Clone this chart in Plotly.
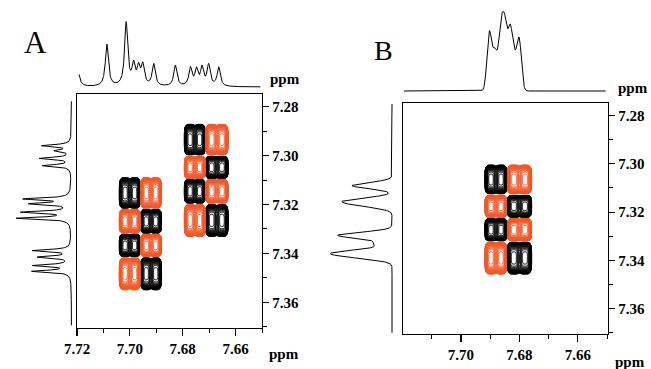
import numpy as np
import plotly.graph_objects as go

W, H = 651, 369

# ---------------- data ----------------
# 2D cross-peak blocks: column centres (ppm), row centres (ppm), half sizes, sign pattern
A1_x = [7.7000, 7.6920]
A1_xhw = [0.0040, 0.0040]
A1_y = [7.3153, 7.3269, 7.3367, 7.3483]
A1_yhw = [0.0065, 0.0051, 0.0048, 0.0068]

A2_x = [7.6754, 7.6671]
A2_xhw = [0.0040, 0.0043]
A2_y = [7.2935, 7.3048, 7.3146, 7.3265]
A2_yhw = [0.0065, 0.0048, 0.0051, 0.0068]

B1_x = [7.6880, 7.6800]
B1_xhw = [0.0038, 0.0042]
B1_y = [7.3065, 7.3176, 7.3273, 7.3390]
B1_yhw = [0.0062, 0.0048, 0.0049, 0.0069]

block_signs = [[1, -1], [-1, 1], [1, -1], [-1, 1]]   # +1 black, -1 orange

# 1D projections (peak positions in ppm, heights in arbitrary units)
A_top_ppm = [7.7200, 7.7087, 7.7014, 7.6986, 7.6967, 7.6951, 7.6910, 7.6828,
             7.6771, 7.6748, 7.6727, 7.6702, 7.6664]
A_top_h = [28, 42, 63, 20, 17, 20, 22, 21, 18, 16, 18, 21, 19]
A_top_w = 0.0007

A_left_ppm = [7.2959, 7.2980, 7.3011, 7.3041, 7.3177, 7.3197, 7.3231, 7.3256,
              7.3388, 7.3415, 7.3449, 7.3473]
A_left_h = [29, 15, 31, 28, 46, 39, 48, 53, 38, 32, 37, 38]
A_left_w = 0.0005

B_top_ppm = [7.6903, 7.6884, 7.6864, 7.6850, 7.6832, 7.6818, 7.6801]
B_top_h = [58, 38, 57, 60, 57, 27, 51]
B_top_s = 0.00079

B_left_ppm = [7.3090, 7.3152, 7.3171, 7.3296, 7.3331, 7.3367, 7.3385]
B_left_h = [40, 40, 25, 54, 17, 48, 30]
B_left_s = 0.00124

ORANGE = "#F2592A"
FONT = "Liberation Serif"

# ---------------- helpers ----------------
def px_x(a, b):
    return [a / W, b / W]

def px_y(top, bottom):
    return [1 - bottom / H, 1 - top / H]

def surface(xg, yg, groups):
    X, Y = np.meshgrid(xg, yg)
    Z = np.zeros_like(X)
    edge = np.log(20.0) ** 0.25
    for xs, xhw, ys, yhw in groups:
        for r, (yc, hy) in enumerate(zip(ys, yhw)):
            for c, (xc, hx) in enumerate(zip(xs, xhw)):
                # each block = two side-by-side lobes
                wx, wy = 0.55 * hx / edge, 0.97 * hy / edge
                for off in (-0.45, 0.45):
                    Z += block_signs[r][c] * np.exp(-((X - xc - off * hx) / wx) ** 4
                                                    - ((Y - yc) / wy) ** 4)
    return Z

def contour_pair(xg, yg, Z, xa, ya):
    traces = []
    for sign, col in ((1, "black"), (-1, ORANGE)):
        zz = np.log(np.clip(sign * Z, 1e-9, None))
        traces.append(go.Contour(
            x=xg, y=yg, z=zz, xaxis=xa, yaxis=ya,
            contours=dict(start=np.log(0.05), end=np.log(0.995), size=np.log(1.15),
                          coloring="lines"),
            colorscale=[[0, col], [1, col]], showscale=False,
            line=dict(width=1.0), hoverinfo="skip", autocontour=False))
    return traces

def lorentz(grid, pos, hts, w):
    g = np.asarray(grid)
    return sum(h / (1 + ((g - p) / w) ** 2) for p, h in zip(pos, hts))

def gauss(grid, pos, hts, s):
    g = np.asarray(grid)
    return sum(h * np.exp(-0.5 * ((g - p) / s) ** 2) for p, h in zip(pos, hts))

fig = go.Figure()

# ---------------- panel A ----------------
xg = np.linspace(7.72, 7.65, 300)
yg = np.linspace(7.275, 7.371, 340)
ZA = surface(xg, yg, [(A1_x, A1_xhw, A1_y, A1_yhw), (A2_x, A2_xhw, A2_y, A2_yhw)])
for t in contour_pair(xg, yg, ZA, "x", "y"):
    fig.add_trace(t)

ta = np.linspace(7.7192, 7.6506, 900)
fig.add_trace(go.Scatter(x=ta, y=lorentz(ta, A_top_ppm, A_top_h, A_top_w), mode="lines",
                         line=dict(color="black", width=1), xaxis="x2", yaxis="y2",
                         hoverinfo="skip"))
la = np.linspace(7.2778, 7.3694, 900)
fig.add_trace(go.Scatter(x=lorentz(la, A_left_ppm, A_left_h, A_left_w), y=la, mode="lines",
                         line=dict(color="black", width=1), xaxis="x3", yaxis="y3",
                         hoverinfo="skip"))

# ---------------- panel B ----------------
ZB = surface(xg, yg, [(B1_x, B1_xhw, B1_y, B1_yhw)])
for t in contour_pair(xg, yg, ZB, "x4", "y4"):
    fig.add_trace(t)

tb = np.linspace(7.7195, 7.6505, 900)
fig.add_trace(go.Scatter(x=tb, y=gauss(tb, B_top_ppm, B_top_h, B_top_s), mode="lines",
                         line=dict(color="black", width=1), xaxis="x5", yaxis="y5",
                         hoverinfo="skip"))
lb = np.linspace(7.2752, 7.3700, 900)
fig.add_trace(go.Scatter(x=gauss(lb, B_left_ppm, B_left_h, B_left_s), y=lb, mode="lines",
                         line=dict(color="black", width=1), xaxis="x6", yaxis="y6",
                         hoverinfo="skip"))

tickfont = dict(family=FONT, size=15, color="black", weight="bold")

def xaxis2d(dom, rng):
    return dict(domain=dom, range=rng, tickmode="linear", tick0=7.66, dtick=0.02,
                tickformat=".2f", ticks="outside", ticklen=7, tickwidth=1.2, tickcolor="black",
                showline=True, linecolor="black", linewidth=1.3, mirror=True, automargin=False,
                showgrid=False, zeroline=False, tickfont=tickfont,
                minor=dict(ticks="outside", ticklen=4, tickwidth=1, tickcolor="black",
                           tickmode="linear", tick0=7.65, dtick=0.01, showgrid=False))

def yaxis2d(dom, anchor):
    return dict(domain=dom, range=[7.3705, 7.2748], side="right", anchor=anchor,
                tickmode="linear", tick0=7.28, dtick=0.02, tickformat=".2f",
                ticks="outside", ticklen=6, tickwidth=1.2, tickcolor="black", automargin=False,
                showline=True, linecolor="black", linewidth=1.3, mirror=True,
                showgrid=False, zeroline=False, tickfont=tickfont,
                minor=dict(ticks="outside", ticklen=4, tickwidth=1, tickcolor="black",
                           tickmode="linear", tick0=7.27, dtick=0.01, showgrid=False))

hidden = dict(visible=False, showgrid=False, zeroline=False, automargin=False)

fig.update_layout(
    width=W, height=H, margin=dict(l=0, r=0, t=0, b=0, autoexpand=False),
    paper_bgcolor="white", plot_bgcolor="rgba(0,0,0,0)", showlegend=False,
    hovermode=False,
    xaxis=dict(**xaxis2d(px_x(77, 262), [7.72, 7.65]), anchor="y"),
    yaxis=yaxis2d(px_y(94, 328), "x"),
    xaxis2=dict(**hidden, domain=px_x(77, 262), matches="x", anchor="y2"),
    yaxis2=dict(**hidden, domain=px_y(15, 93), range=[-6, 72], anchor="x2"),
    xaxis3=dict(**hidden, domain=px_x(5, 75), range=[66.5, -3.5], anchor="y3"),
    yaxis3=dict(**hidden, domain=px_y(94, 328), matches="y", anchor="x3"),
    xaxis4=dict(**xaxis2d(px_x(403, 608), [7.7198, 7.6497]), anchor="y4"),
    yaxis4=yaxis2d(px_y(103, 334), "x4"),
    xaxis5=dict(**hidden, domain=px_x(403, 608), matches="x4", anchor="y5"),
    yaxis5=dict(**hidden, domain=px_y(5, 102), range=[-11, 86], anchor="x5"),
    xaxis6=dict(**hidden, domain=px_x(325, 398), range=[67, -6], anchor="y6"),
    yaxis6=dict(**hidden, domain=px_y(103, 334), matches="y4", anchor="x6"),
)

def label(text, x, y, size, bold):
    fig.add_annotation(text=text, x=x / W, y=1 - y / H, xref="paper", yref="paper",
                       showarrow=False, xanchor="center", yanchor="middle",
                       font=dict(family=FONT, size=size, color="black",
                                 weight="bold" if bold else "normal"))

label("A", 35, 43, 31, False)
label("B", 383, 51, 28, False)
label("ppm", 285, 79, 15, True)
label("ppm", 284, 354, 15, True)
label("ppm", 633, 88, 15, True)
label("ppm", 630, 362, 15, True)

fig.write_html("out.html", config={"displayModeBar": False, "staticPlot": True},
               post_script="document.body.style.margin='0';document.body.style.overflow='hidden';")
